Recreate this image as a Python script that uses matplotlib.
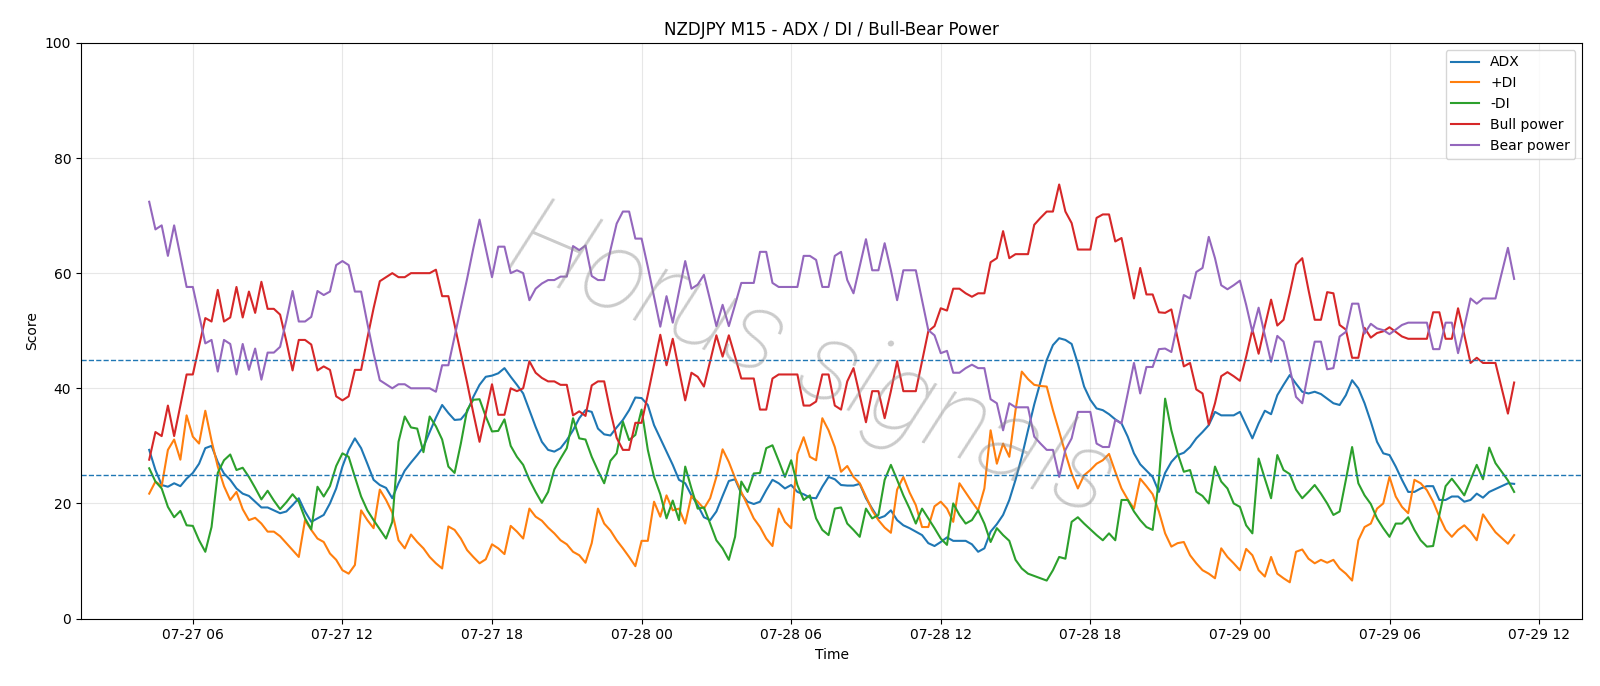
import matplotlib
matplotlib.use("Agg")
import matplotlib.pyplot as plt
import matplotlib.dates as mdates
import pandas as pd

start_time = "2021-07-27 04:15"
n_points = 220

adx = [
    29.3, 25.8, 23.2, 22.9, 23.5, 23.0, 24.3, 25.3, 26.9, 29.6,
    30.0, 27.2, 25.2, 24.1, 22.6, 21.7, 21.3, 20.3, 19.3, 19.3,
    18.8, 18.3, 18.6, 19.7, 20.9, 18.6, 16.8, 17.4, 18.0, 20.0,
    22.6, 26.4, 29.3, 31.3, 29.6, 26.9, 24.1, 23.2, 22.7, 20.9,
    23.5, 25.7, 27.1, 28.4, 29.8, 32.4, 34.9, 37.1, 35.7, 34.5,
    34.6, 35.9, 38.5, 40.6, 42.0, 42.2, 42.6, 43.5, 42.0, 40.6,
    39.1, 36.2, 33.3, 30.7, 29.3, 29.0, 29.6, 31.0, 32.7, 34.8,
    36.2, 35.9, 33.0, 32.0, 31.8, 33.2, 34.5, 36.2, 38.4, 38.3,
    37.1, 33.6, 31.3, 29.0, 26.7, 24.1, 23.5, 21.4, 19.7, 17.6,
    17.1, 18.6, 21.3, 23.9, 24.2, 21.7, 20.3, 19.9, 20.3, 22.3,
    24.1, 23.5, 22.6, 23.2, 22.0, 21.6, 21.0, 20.9, 22.9, 24.6,
    24.2, 23.2, 23.1, 23.1, 23.4, 20.9, 19.1, 17.4, 17.8, 18.8,
    17.1, 16.2, 15.7, 15.1, 14.5, 13.1, 12.6, 13.3, 14.1, 13.5,
    13.5, 13.5, 12.9, 11.6, 12.2, 15.1, 16.4, 18.0, 20.6, 24.1,
    28.1, 32.7, 37.2, 41.1, 44.9, 47.5, 48.7, 48.4, 47.7, 44.3,
    40.3, 38.0, 36.5, 36.2, 35.5, 34.6, 33.9, 31.6, 28.7, 26.8,
    25.7, 24.6, 22.0, 25.3, 27.2, 28.4, 28.8, 29.8, 31.3, 32.4,
    33.6, 35.9, 35.3, 35.3, 35.3, 35.9, 33.6, 31.3, 33.9, 36.1,
    35.5, 38.8, 40.6, 42.3, 40.8, 39.4, 39.1, 39.4, 39.0, 38.2,
    37.4, 37.1, 38.8, 41.4, 40.0, 37.4, 34.2, 30.7, 28.7, 28.4,
    26.4, 24.1, 22.0, 22.0, 22.6, 23.0, 23.0, 20.6, 20.6, 21.2,
    21.2, 20.3, 20.6, 21.7, 21.0, 22.0, 22.5, 23.0, 23.5, 23.4,
]

plus_di = [
    21.7, 23.8, 23.0, 29.3, 31.1, 27.6, 35.3, 31.6, 30.4, 36.1,
    30.9, 26.4, 23.0, 20.6, 22.0, 19.0, 17.1, 17.5, 16.5, 15.1,
    15.1, 14.3, 13.1, 11.9, 10.7, 17.1, 15.4, 13.9, 13.3, 11.3,
    10.2, 8.4, 7.8, 9.3, 18.8, 17.1, 15.7, 22.4, 20.6, 18.4,
    13.6, 12.2, 14.6, 13.3, 12.2, 10.7, 9.6, 8.7, 16.0, 15.4,
    13.9, 11.9, 10.7, 9.6, 10.3, 12.9, 12.2, 11.2, 16.1, 15.1,
    13.9, 19.1, 17.7, 17.0, 15.8, 14.8, 13.6, 12.9, 11.6, 11.0,
    9.7, 13.1, 19.1, 16.5, 15.3, 13.6, 12.2, 10.7, 9.1, 13.5,
    13.5, 20.3, 17.7, 21.4, 18.8, 19.1, 16.5, 21.3, 20.3, 19.1,
    20.9, 24.6, 29.4, 27.2, 24.4, 22.0, 19.7, 17.4, 15.9, 13.9,
    12.6, 19.1, 16.8, 15.7, 28.6, 31.5, 28.1, 27.5, 34.8, 32.7,
    29.8, 25.5, 26.5, 24.6, 23.5, 21.2, 18.8, 17.1, 15.8, 14.9,
    22.4, 24.6, 21.9, 19.7, 15.9, 15.9, 19.5, 20.3, 19.1, 16.8,
    23.5, 21.9, 20.3, 18.8, 22.6, 32.7, 26.9, 30.4, 28.1, 36.2,
    42.9, 41.6, 40.6, 40.4, 40.3, 36.2, 32.5, 28.7, 25.2, 22.6,
    24.9, 25.8, 26.9, 27.5, 28.6, 25.5, 22.6, 20.7, 19.1, 24.3,
    23.0, 21.6, 18.6, 14.8, 12.5, 13.1, 13.3, 11.0, 9.6, 8.4,
    7.8, 7.0, 12.2, 10.7, 9.6, 8.4, 12.1, 11.0, 8.4, 7.3,
    10.7, 7.8, 7.0, 6.3, 11.6, 12.0, 10.4, 9.6, 10.2, 9.7,
    10.2, 8.7, 7.8, 6.6, 13.6, 15.9, 16.5, 19.1, 20.0, 24.6,
    21.2, 19.4, 18.3, 24.1, 23.5, 22.3, 20.3, 17.7, 15.4, 14.2,
    15.4, 16.2, 15.1, 13.6, 18.1, 16.5, 15.0, 14.0, 13.0, 14.5,
]

minus_di = [
    26.1, 23.8, 22.6, 19.4, 17.6, 18.7, 16.2, 16.1, 13.6, 11.6,
    15.9, 25.3, 27.5, 28.5, 25.8, 26.2, 24.6, 22.7, 20.7, 22.2,
    20.5, 19.0, 20.2, 21.6, 20.3, 17.4, 15.5, 22.9, 21.2, 23.0,
    26.5, 28.7, 28.1, 24.6, 21.2, 18.8, 17.1, 15.5, 13.9, 16.8,
    30.7, 35.1, 33.2, 33.0, 28.9, 35.1, 33.4, 31.1, 26.4, 25.3,
    30.4, 36.2, 38.0, 38.1, 35.1, 32.5, 32.6, 34.6, 30.0, 28.1,
    26.7, 24.1, 22.0, 20.1, 22.0, 25.9, 27.8, 29.6, 34.8, 31.3,
    31.1, 28.1, 25.7, 23.5, 27.4, 28.7, 34.2, 31.0, 31.9, 36.3,
    29.3, 24.6, 21.6, 17.4, 20.5, 17.1, 26.4, 22.6, 19.1, 19.3,
    16.5, 13.6, 12.2, 10.2, 14.2, 23.8, 22.0, 25.2, 25.3, 29.6,
    30.1, 27.4, 24.6, 27.5, 23.2, 20.6, 21.4, 17.4, 15.4, 14.5,
    19.1, 19.3, 16.5, 15.4, 14.2, 19.1, 17.4, 18.0, 24.1, 26.7,
    24.1, 21.4, 19.1, 16.5, 19.1, 17.4, 15.7, 13.9, 12.8, 20.0,
    18.0, 16.5, 17.1, 18.8, 16.5, 13.3, 15.7, 14.5, 13.5, 10.2,
    8.7, 7.8, 7.4, 7.0, 6.6, 8.4, 10.7, 10.4, 16.8, 17.6,
    16.5, 15.5, 14.5, 13.6, 14.8, 13.6, 20.6, 20.6, 18.6, 17.1,
    15.9, 15.4, 24.1, 38.2, 32.7, 28.7, 25.5, 25.8, 22.0, 21.3,
    20.0, 26.4, 23.8, 22.6, 20.0, 19.4, 16.2, 14.8, 27.8, 24.3,
    20.9, 28.4, 25.8, 25.1, 22.4, 20.9, 22.0, 23.2, 21.7, 20.0,
    18.0, 18.6, 24.1, 29.8, 23.5, 21.4, 19.9, 17.4, 15.7, 14.2,
    16.5, 16.5, 17.6, 15.4, 13.6, 12.5, 12.6, 18.0, 23.0, 24.3,
    22.9, 21.4, 24.1, 26.7, 24.2, 29.7, 27.0, 25.5, 24.0, 22.0,
]

bull_power = [
    27.6, 32.4, 31.7, 37.0, 31.7, 37.0, 42.4, 42.4, 47.3, 52.2,
    51.6, 57.1, 51.6, 52.3, 57.6, 52.3, 56.8, 53.1, 58.5, 53.8,
    53.8, 52.8, 48.2, 43.1, 48.4, 48.4, 47.6, 43.1, 43.8, 43.2,
    38.6, 37.9, 38.6, 43.2, 43.2, 48.7, 53.9, 58.6, 59.3, 60.0,
    59.3, 59.3, 60.0, 60.0, 60.0, 60.0, 60.6, 56.0, 56.0, 51.0,
    46.0, 41.0, 35.7, 30.7, 35.7, 40.7, 35.4, 35.4, 40.0, 39.5,
    40.0, 44.7, 42.7, 41.8, 41.2, 41.2, 40.6, 40.6, 35.3, 36.0,
    35.2, 40.5, 41.2, 41.2, 36.0, 31.4, 29.3, 29.3, 34.0, 34.0,
    38.9, 44.1, 49.3, 44.0, 48.6, 43.2, 37.9, 42.7, 42.0, 40.3,
    44.7, 49.2, 45.5, 49.2, 45.5, 41.7, 41.7, 41.7, 36.3, 36.3,
    41.7, 42.4, 42.4, 42.4, 42.4, 37.0, 37.0, 37.7, 42.4, 42.4,
    37.0, 36.3, 41.2, 43.5, 38.8, 34.1, 39.5, 39.5, 34.8, 39.5,
    44.7, 39.5, 39.5, 39.5, 44.7, 49.9, 50.8, 53.9, 53.5, 57.3,
    57.3, 56.5, 55.9, 56.5, 56.5, 61.9, 62.6, 67.3, 62.6, 63.3,
    63.3, 63.3, 68.4, 69.6, 70.7, 70.7, 75.4, 70.7, 68.7, 64.1,
    64.1, 64.1, 69.6, 70.2, 70.2, 65.5, 66.1, 60.9, 55.6, 60.9,
    56.3, 56.3, 53.2, 53.1, 53.7, 48.7, 43.8, 44.4, 39.8, 39.1,
    33.7, 37.4, 42.1, 42.8, 42.1, 41.3, 45.5, 50.2, 46.0, 50.8,
    55.4, 50.9, 51.9, 56.5, 61.5, 62.6, 57.1, 51.9, 51.9, 56.7,
    56.5, 51.0, 50.2, 45.3, 45.3, 50.5, 48.8, 49.6, 49.9, 50.6,
    49.8, 49.0, 48.6, 48.6, 48.6, 48.6, 53.2, 53.2, 48.6, 48.6,
    53.9, 49.3, 44.4, 45.3, 44.4, 44.4, 44.4, 40.0, 35.6, 41.0,
]

bear_power = [
    72.4, 67.6, 68.3, 63.0, 68.3, 63.0, 57.6, 57.6, 52.7, 47.8,
    48.4, 42.9, 48.4, 47.7, 42.4, 47.7, 43.2, 46.9, 41.5, 46.2,
    46.2, 47.2, 51.8, 56.9, 51.6, 51.6, 52.4, 56.9, 56.2, 56.8,
    61.4, 62.1, 61.4, 56.8, 56.8, 51.3, 46.1, 41.4, 40.7, 40.0,
    40.7, 40.7, 40.0, 40.0, 40.0, 40.0, 39.4, 44.0, 44.0, 49.0,
    54.0, 59.0, 64.3, 69.3, 64.3, 59.3, 64.6, 64.6, 60.0, 60.5,
    60.0, 55.3, 57.3, 58.2, 58.8, 58.8, 59.4, 59.4, 64.7, 64.0,
    64.8, 59.5, 58.8, 58.8, 64.0, 68.6, 70.7, 70.7, 66.0, 66.0,
    61.1, 55.9, 50.7, 56.0, 51.4, 56.8, 62.1, 57.3, 58.0, 59.7,
    55.3, 50.8, 54.5, 50.8, 54.5, 58.3, 58.3, 58.3, 63.7, 63.7,
    58.3, 57.6, 57.6, 57.6, 57.6, 63.0, 63.0, 62.3, 57.6, 57.6,
    63.0, 63.7, 58.8, 56.5, 61.2, 65.9, 60.5, 60.5, 65.2, 60.5,
    55.3, 60.5, 60.5, 60.5, 55.3, 50.1, 49.2, 46.1, 46.5, 42.7,
    42.7, 43.5, 44.1, 43.5, 43.5, 38.1, 37.4, 32.7, 37.4, 36.7,
    36.7, 36.7, 31.6, 30.4, 29.3, 29.3, 24.6, 29.3, 31.3, 35.9,
    35.9, 35.9, 30.4, 29.8, 29.8, 34.5, 33.9, 39.1, 44.4, 39.1,
    43.7, 43.7, 46.8, 46.9, 46.3, 51.3, 56.2, 55.6, 60.2, 60.9,
    66.3, 62.6, 57.9, 57.2, 57.9, 58.7, 54.5, 49.8, 54.0, 49.2,
    44.6, 49.1, 48.1, 43.5, 38.5, 37.4, 42.9, 48.1, 48.1, 43.3,
    43.5, 49.0, 49.8, 54.7, 54.7, 49.5, 51.2, 50.4, 50.1, 49.4,
    50.2, 51.0, 51.4, 51.4, 51.4, 51.4, 46.8, 46.8, 51.4, 51.4,
    46.1, 50.7, 55.6, 54.7, 55.6, 55.6, 55.6, 60.0, 64.4, 59.0,
]

series_labels = ["ADX", "+DI", "-DI", "Bull power", "Bear power"]
threshold_levels = [25, 45]

times = pd.date_range(start_time, periods=n_points, freq="15min")

fig = plt.figure(figsize=(16, 6.86), dpi=100)
ax = fig.add_axes([0.0506, 0.0983, 0.9384, 0.8392])

for values, label in zip([adx, plus_di, minus_di, bull_power, bear_power], series_labels):
    ax.plot(times, values, label=label, linewidth=1.5)

for lvl in threshold_levels:
    ax.axhline(lvl, color="tab:blue", linestyle="--", linewidth=1.0)

ax.set_ylim(0, 100)
ax.set_title("NZDJPY M15 - ADX / DI / Bull-Bear Power", fontsize=12)
ax.set_xlabel("Time")
ax.set_ylabel("Score")
ax.grid(True, color="#b0b0b0", alpha=0.3, linewidth=0.8)
ax.xaxis.set_major_locator(mdates.HourLocator(byhour=[0, 6, 12, 18]))
ax.xaxis.set_major_formatter(mdates.DateFormatter("%m-%d %H"))
ax.legend(loc="upper right")

ax.text(0.487, 0.445, "Horus signals", transform=ax.transAxes, rotation=-23,
        fontsize=81, fontstyle="italic", fontweight="light",
        family=["Roboto", "Lato", "DejaVu Sans"],
        color="#8c8c8c", alpha=0.45,
        ha="center", va="center", zorder=10)

fig.savefig("out.png", dpi=100)
